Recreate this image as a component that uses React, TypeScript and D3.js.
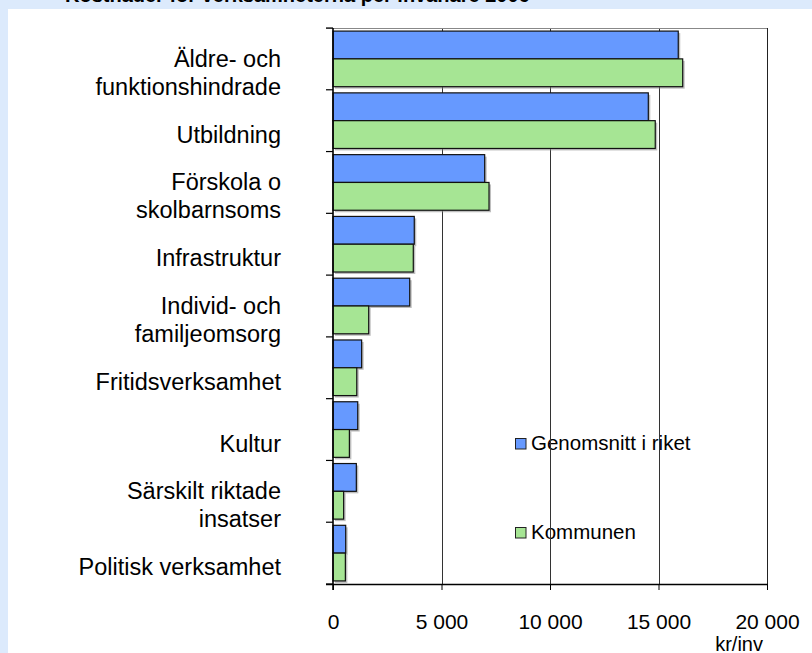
import React, { useEffect, useRef } from 'react';
import * as d3 from 'd3';

const categories: string[][] = [
  ['Äldre- och', 'funktionshindrade'],
  ['Utbildning'],
  ['Förskola o', 'skolbarnsoms'],
  ['Infrastruktur'],
  ['Individ- och', 'familjeomsorg'],
  ['Fritidsverksamhet'],
  ['Kultur'],
  ['Särskilt riktade', 'insatser'],
  ['Politisk verksamhet'],
];
const riket = [15910, 14530, 6990, 3745, 3535, 1320, 1140, 1075, 585];
const kommunen = [16115, 14850, 7190, 3700, 1645, 1095, 755, 490, 570];
const seriesNames = ['Genomsnitt i riket', 'Kommunen'];
const xTicks = [0, 5000, 10000, 15000, 20000];

const W = 812;
const H = 653;
const FONT = '"Liberation Sans", Arial, sans-serif';

const App: React.FC = () => {
  const svgRef = useRef<SVGSVGElement>(null);

  useEffect(() => {
    if (!svgRef.current) return;
    const svg = d3.select(svgRef.current);
    svg.selectAll('*').remove();

    const plot = { left: 333, right: 767, top: 28, bottom: 584 };
    const colors = ['#6699ff', '#a6e594'];

    // background + title (only its lower edge shows, as in the source)
    svg.append('rect').attr('width', W).attr('height', H).attr('fill', '#dceafc');
    svg.append('text')
      .attr('x', 65).attr('y', 1.5)
      .attr('font-family', FONT).attr('font-size', 20).attr('font-weight', 'bold')
      .attr('fill', '#000')
      .text('Kostnader för verksamheterna per invånare 2006');
    svg.append('rect').attr('x', 8).attr('y', 9).attr('width', W - 8).attr('height', H - 9).attr('fill', '#fff');

    const x = d3.scaleLinear().domain([0, 20000]).range([plot.left, plot.right]);
    const keys = categories.map((_, i) => String(i));
    const y = d3.scaleBand<string>().domain(keys).range([plot.top, plot.bottom])
      .paddingInner(0.1).paddingOuter(0.05);
    const sub = d3.scaleBand<number>().domain([0, 1]).range([0, y.bandwidth()]);
    const step = y.step();

    // legend (sits under the gridlines)
    const legend = svg.append('g').attr('font-family', FONT).attr('font-size', 20.5);
    const legendY = [438, 527];
    seriesNames.forEach((name, i) => {
      legend.append('rect')
        .attr('x', 515.5).attr('y', legendY[i] + 0.5).attr('width', 10.5).attr('height', 10.5)
        .attr('fill', colors[i]).attr('stroke', '#222').attr('stroke-width', 1);
      legend.append('text').attr('x', 531).attr('y', legendY[i] + 11.5).text(name);
    });

    // gridlines
    svg.append('g')
      .selectAll('line')
      .data(xTicks.slice(1, -1))
      .join('line')
      .attr('x1', d => Math.round(x(d)) + 0.5).attr('x2', d => Math.round(x(d)) + 0.5)
      .attr('y1', plot.top).attr('y2', plot.bottom)
      .attr('stroke', '#333').attr('stroke-width', 1);

    // frame: top grey, right dark
    svg.append('line').attr('x1', plot.left - 7).attr('x2', plot.right)
      .attr('y1', plot.top + 0.5).attr('y2', plot.top + 0.5).attr('stroke', '#888');
    svg.append('line').attr('x1', plot.right + 0.5).attr('x2', plot.right + 0.5)
      .attr('y1', plot.top).attr('y2', plot.bottom).attr('stroke', '#222');

    // bars
    const barsG = svg.append('g');
    [riket, kommunen].forEach((vals, s) => {
      barsG.append('g')
        .selectAll('rect.shadow')
        .data(vals)
        .join('rect')
        .attr('x', x(0) + 2)
        .attr('y', (_, i) => (y(String(i)) ?? 0) + (sub(s) ?? 0) + 2)
        .attr('width', d => x(d) - x(0))
        .attr('height', sub.bandwidth())
        .attr('fill', '#888').attr('opacity', 0.55);
    });
    [riket, kommunen].forEach((vals, s) => {
      barsG.append('g')
        .selectAll('rect.bar')
        .data(vals)
        .join('rect')
        .attr('x', x(0))
        .attr('y', (_, i) => (y(String(i)) ?? 0) + (sub(s) ?? 0))
        .attr('width', d => x(d) - x(0))
        .attr('height', sub.bandwidth())
        .attr('fill', colors[s]).attr('stroke', '#111').attr('stroke-width', 1.2);
    });

    // left axis with ticks at band boundaries
    const yBounds = d3.range(categories.length + 1).map(i => plot.top + i * step);
    svg.append('line').attr('x1', plot.left).attr('x2', plot.left)
      .attr('y1', plot.top).attr('y2', plot.bottom + 6).attr('stroke', '#000').attr('stroke-width', 1.6);
    svg.append('g').selectAll('line').data(yBounds).join('line')
      .attr('x1', plot.left - 7).attr('x2', plot.left)
      .attr('y1', d => d).attr('y2', d => d)
      .attr('stroke', '#000').attr('stroke-width', 1.2);

    // bottom axis
    const xAxis = svg.append('g').attr('transform', `translate(0,${plot.bottom})`)
      .call(d3.axisBottom(x).tickValues(xTicks).tickSize(6).tickPadding(24)
        .tickFormat(d => d3.format(',')(d as number).replace(/,/g, ' ')));
    xAxis.select('.domain').attr('stroke', '#000').attr('stroke-width', 1.6)
      .attr('d', `M${plot.left - 7},0.5H${plot.right + 1}`);
    xAxis.selectAll('.tick line').attr('stroke', '#000');
    xAxis.selectAll('.tick text').attr('font-family', FONT).attr('font-size', 21).attr('fill', '#000');

    svg.append('text').attr('x', 763).attr('y', 651).attr('text-anchor', 'end')
      .attr('font-family', FONT).attr('font-size', 20).text('kr/inv');

    // category labels
    const labels = svg.append('g').attr('font-family', FONT).attr('font-size', 23.5)
      .attr('text-anchor', 'end').attr('fill', '#000');
    categories.forEach((lines, i) => {
      const c = (y(String(i)) ?? 0) + y.bandwidth() / 2 + 14;
      const lh = 28;
      const first = c - ((lines.length - 1) * lh) / 2 + 8;
      lines.forEach((ln, j) => {
        labels.append('text').attr('x', 281).attr('y', first + j * lh).text(ln);
      });
    });
  }, []);

  return (
    <div style={{ position: 'absolute', left: 0, top: 0 }}>
      <svg ref={svgRef} width={W} height={H} style={{ display: 'block' }} />
    </div>
  );
};

export default App;
